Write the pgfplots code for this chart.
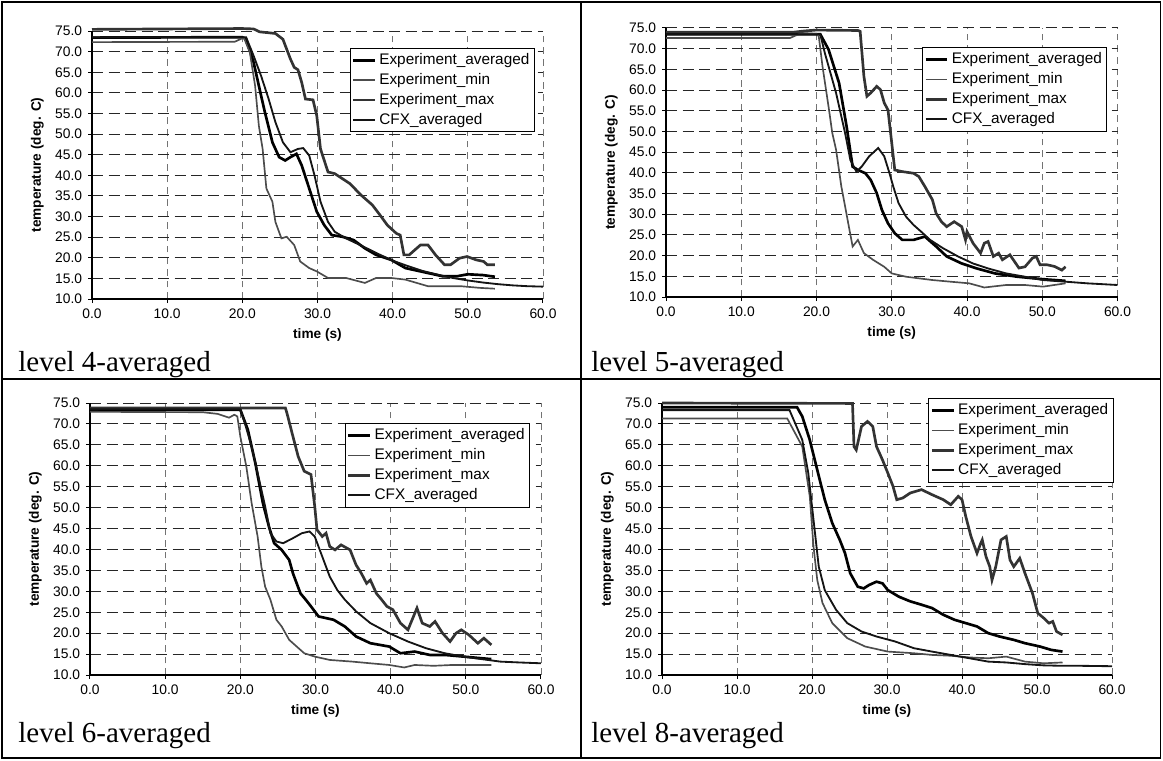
\documentclass[border=0pt]{standalone}
\usepackage{fontspec}
\setmainfont{Liberation Sans}
\newfontfamily\timesfont{Liberation Serif}
\usepackage{pgfplots}
\pgfplotsset{compat=1.18}
\pgfplotsset{
  panel/.style={
    scale only axis,
    xmin=0, xmax=60, ymin=10, ymax=75,
    xtick={0,10,...,60}, ytick={10,15,...,75},
    axis x line*=bottom, axis y line*=left,
    axis line style={-, line width=0.8pt, black},
    tick align=outside, major tick length=2.4pt,
    tick style={black, line width=0.6pt},
    xmajorgrids, ymajorgrids,
    x grid style={black!55, line width=0.5pt, dash pattern=on 4pt off 3pt},
    y grid style={black!85, line width=0.6pt, dash pattern=on 6.6pt off 3.3pt},
    /pgf/number format/.cd, fixed, fixed zerofill, precision=1, assume math mode=true,
    /pgfplots/.cd,
    tick label style={font=\fontsize{8.3}{10}\selectfont},
    label style={font=\bfseries\fontsize{8.2}{10}\selectfont},
    xlabel={time (s)}, ylabel={temperature (deg. C)},
    xlabel style={yshift=1pt},
    clip=false,
    legend cell align=left,
    legend image code/.code={\draw[##1] (0pt,0pt) -- (13pt,0pt);},
    legend style={font=\fontsize{9.2}{10.5}\selectfont, draw=black, line width=0.6pt,
      fill=white, inner xsep=1pt, inner ysep=1pt, row sep=-0.2pt, anchor=north west},
  },
  avg/.style={black, line width=1.6pt},
  emin/.style={black!70, line width=1.0pt},
  emax/.style={black!80, line width=1.6pt},
  cfx/.style={black!92, line width=1.1pt},
}
\begin{document}
\begin{tikzpicture}
\useasboundingbox (0,0) rectangle (697.8pt,456pt);
\draw[line width=0.9pt] (1.2pt,1.2pt) rectangle (696.3pt,454.8pt);
\draw[line width=0.9pt] (348.6pt,1.2pt) -- (348.6pt,454.8pt);
\draw[line width=0.9pt] (1.2pt,228.6pt) -- (696.3pt,228.6pt);

% ---------------- level 4 ----------------
\begin{axis}[panel, at={(55.2pt,276.6pt)}, anchor=south west, width=270.6pt, height=160.8pt,
  legend style={at={(0.571,0.937)}}]
\addplot[avg] coordinates {(0,73.4) (20,73.5) (20.5,73) (21.5,67.4) (22.2,61.7) (23,55.3) (24,48) (24.9,44.4) (25.7,43.6) (26.4,44.4) (27.2,45.2) (27.9,42.4) (28.9,36.8) (29.9,31.2) (30.9,27.9) (31.9,25.5) (33.3,25.1) (34.8,24.3) (36.3,22.3) (37.8,20.7) (39.8,19.5) (41.7,17.5) (43.7,16.7) (46.7,15.5) (48.5,15.5) (50,16) (52,15.8) (53.6,15.4)};
\addplot[emin] coordinates {(0,72.3) (19,72.4) (20.2,73.4) (21,69.8) (21.7,61.7) (22.2,52) (22.7,46.4) (23.2,36.8) (24,33.6) (24.4,28.7) (25.2,24.7) (25.9,25.1) (26.9,23.1) (27.7,19.1) (28.9,17.5) (29.9,16.7) (31.4,15.1) (33.8,15.1) (36.3,13.9) (37.8,15.1) (39.8,15.1) (41.7,14.7) (43.2,13.9) (44.7,13.1) (46.7,13.1) (49.1,13.1) (51.6,12.7) (53.6,12.5)};
\addplot[emax] coordinates {(0,75.4) (10,75.5) (20,75.6) (21.5,75.5) (22.3,74.8) (24.4,74.4) (25.4,73) (26.4,68.2) (26.9,66.2) (27.4,65.6) (27.9,62.5) (28.4,58.5) (29.4,58.3) (29.9,54.5) (30.4,46.4) (31.4,40.8) (32.3,40.4) (34.3,38) (35.8,35.2) (37.3,32.8) (38.3,30.4) (39.3,27.9) (40.5,25.9) (41,25.5) (41.5,20.7) (42.2,20.7) (43.7,23.1) (44.7,23.1) (45.7,20.7) (46.9,18.3) (47.7,18.3) (48.9,19.9) (49.9,20.3) (51.1,19.5) (52.1,19.1) (52.6,18.3) (53.6,18.3)};
\addplot[cfx] coordinates {(0,73.5) (20.5,73.5) (21.5,69) (22.5,64.1) (23.5,58.5) (24.4,52.9) (25.4,48) (26.4,45.6) (27.4,46.4) (28.1,46.6) (28.9,44.8) (29.6,40) (30.4,33.6) (31.4,28.7) (32.3,26.3) (33.8,24.7) (36,22.8) (38,21) (40,19.3) (42,18) (44,16.8) (46,15.9) (48,15.1) (50,14.5) (52,14) (54,13.6) (56,13.3) (58,13.1) (60,13)};
\legend{Experiment\_averaged, Experiment\_min, Experiment\_max, CFX\_averaged}
\end{axis}

% ---------------- level 5 ----------------
\begin{axis}[panel, at={(399.6pt,277.8pt)}, anchor=south west, width=270.9pt, height=161.4pt,
  legend style={at={(0.567,0.929)}}]
\addplot[avg] coordinates {(0,73.5) (20.5,73.5) (21.6,69.8) (23,61.7) (24,51.2) (24.8,41.5) (25.5,40.7) (26.5,39.9) (27.2,38.3) (28,35.1) (28.7,31) (29.5,27.8) (30.4,25.4) (31.4,23.8) (32.9,23.8) (34.4,24.6) (35.9,22.2) (37.3,19.8) (39.3,18.1) (41.3,16.9) (43.7,15.7) (46.7,14.9) (50.1,14.3) (53.1,13.9)};
\addplot[emin] coordinates {(0,72.6) (16.5,72.6) (18,73.8) (20,73.6) (20.3,73) (20.8,65.7) (21.6,56) (22.1,49.6) (22.6,45.6) (23.3,36.7) (23.8,31.9) (24.3,27) (24.8,22.2) (25.5,23.8) (26.3,20.6) (27.5,19) (29,17.3) (30,15.7) (31.9,14.9) (35.4,14.1) (37.8,13.7) (40.3,13.3) (42.3,12.3) (45.2,12.9) (47.7,12.9) (50.1,12.5) (53.1,13.3)};
\addplot[emax] coordinates {(0,74) (17,74) (18.5,74.3) (20,74.5) (25.5,74.4) (25.8,74.2) (26.3,63.3) (26.7,58.5) (27.2,59.3) (28,60.9) (28.5,60.1) (29,56.9) (29.5,55.2) (30,47.2) (30.4,40.7) (31.4,40.3) (32.9,39.9) (33.6,39.1) (34.4,36.7) (35.4,33.5) (35.9,30.2) (36.6,28.2) (37.3,27) (38.3,28.2) (39.3,27) (39.8,23.8) (40,25.8) (40.8,23) (41.8,20.6) (42.3,23) (42.8,23.4) (43.5,19.8) (44.2,20.6) (44.7,19) (45.7,20.2) (46.9,17) (47.7,17.3) (48.7,19.4) (49.2,19.8) (49.7,17.8) (50.6,17.8) (51.6,17.4) (52.6,16.5) (53.1,17.3)};
\addplot[cfx] coordinates {(0,73.5) (20.5,73.5) (21.1,69) (22.6,59.3) (23.8,49.6) (24.5,43.1) (25.3,40.3) (26,41.5) (27,44) (28.2,46) (29,44) (29.7,39.9) (30.2,36.7) (30.9,32.7) (31.9,29.4) (32.9,27.4) (33.9,25.8) (35.1,23.8) (36.8,21.8) (38.8,19.8) (40.8,18.1) (42.8,16.9) (45.2,15.7) (47.7,14.9) (50.1,14.1) (53.1,13.7) (56,13.3) (60,12.9)};
\legend{Experiment\_averaged, Experiment\_min, Experiment\_max, CFX\_averaged}
\end{axis}

% ---------------- level 6 ----------------
\begin{axis}[panel, at={(54pt,51pt)}, anchor=south west, width=270.6pt, height=163.2pt,
  legend style={at={(0.565,0.926)}}]
\addplot[avg] coordinates {(0,73.3) (20,73.4) (21,68.6) (22,60.6) (23,51.1) (23.8,45.5) (24.5,41.5) (25.5,39.9) (26.5,37.5) (27,34.3) (28,29.5) (28.7,28) (29.4,26.4) (30.4,24) (31.4,23.6) (32.4,23.2) (33.9,21.6) (35.4,19.2) (37.3,17.6) (39.8,16.8) (41.3,15.2) (43.2,15.6) (45.2,14.8) (47.2,14.8) (49.7,14.4) (52.1,14) (53.4,13.8)};
\addplot[emin] coordinates {(0,72.9) (15,72.8) (17,72.4) (18.5,71.5) (19.2,72.2) (19.6,71.8) (20,67) (20.8,59.8) (21.5,51.1) (22.3,43.1) (22.8,35.9) (23.3,31.1) (24,28) (24.8,23.2) (25.5,21.6) (26.5,18.4) (27.5,16.8) (28.5,15.2) (29.9,14.4) (31.9,13.6) (34.9,13.2) (37.3,12.8) (39.8,12.4) (41.8,11.8) (43.2,12.4) (45.7,12.2) (48.2,12.4) (50.6,12.4) (53.4,12.4)};
\addplot[emax] coordinates {(0,73.8) (19,73.8) (26,73.8) (26.2,72.6) (27,67) (27.7,62.2) (28.5,58.7) (29.4,57.9) (29.9,50.3) (30.2,44.7) (30.9,43.1) (31.4,43.9) (31.9,40.7) (32.6,39.9) (33.4,41.1) (34.6,39.9) (35.4,36.3) (36.1,34.3) (36.8,31.9) (37.3,32.7) (38.1,29.5) (38.8,28) (39.5,26.4) (40.3,25.6) (41.3,22.4) (42.3,20.8) (43.5,26) (44.2,22.4) (45.2,21.6) (45.9,22.8) (46.9,20) (47.9,18) (48.7,20) (49.4,20.8) (50.4,19.6) (51.6,17.6) (52.4,18.8) (53.4,17.2)};
\addplot[cfx] coordinates {(0,73.5) (20,73.5) (20.6,70.2) (21.5,64.6) (22.5,56.7) (23.3,50.3) (24,43.9) (24.8,41.9) (25.7,41.5) (27,42.7) (28.2,43.9) (29.2,44.3) (29.9,43.1) (30.9,38.3) (31.9,33.5) (32.9,30.3) (33.9,28) (35.4,25.2) (37.3,22.4) (39.8,20) (42.3,18) (44.7,16.4) (47.2,15.2) (49.7,14.4) (52.1,13.8) (54.6,13.2) (57.1,13) (60,12.8)};
\legend{Experiment\_averaged, Experiment\_min, Experiment\_max, CFX\_averaged}
\end{axis}

% ---------------- level 8 ----------------
\begin{axis}[panel, at={(397.2pt,51pt)}, anchor=south west, width=270pt, height=163.2pt,
  legend style={at={(0.592,1.018)}}]
\addplot[avg] coordinates {(0,74) (18,74) (18.7,71.8) (19.7,66.2) (20.7,59) (21.7,51.9) (22.7,46.3) (23.7,42.3) (24.4,39.1) (25.1,34.3) (26.1,31.1) (26.9,30.7) (27.6,31.5) (28.6,32.3) (29.4,31.9) (30.1,30.3) (31.6,28.7) (33.1,27.6) (34.6,26.8) (36,26) (37.5,24.4) (39,23.2) (40.5,22.4) (42,21.6) (43.5,20) (45,19.2) (46.9,18.4) (48.4,17.6) (50.4,16.8) (51.9,16) (53.4,15.6)};
\addplot[emin] coordinates {(0,71.3) (16.7,71.3) (18.7,64.6) (19.7,52.7) (20.2,40.7) (20.7,32.7) (21.4,27.2) (22.7,22.4) (24.7,18.8) (27.1,16.8) (30.1,15.6) (33.6,15.2) (36,14.8) (38.5,14.6) (41,14.2) (43.5,14) (45.9,14.4) (48.4,13.2) (50.9,12.8) (53.4,13)};
\addplot[emax] coordinates {(0,75) (25.4,74.9) (25.6,64.6) (25.9,63.8) (26.6,69.4) (27.4,70.6) (28.1,69.4) (28.6,64.6) (29.4,61.4) (30.1,58.3) (30.8,55.1) (31.3,51.9) (32.1,52.3) (33.1,53.5) (34.6,54.3) (36,53.1) (37.5,51.9) (38.5,50.7) (39.5,52.7) (40,51.9) (40.5,47.9) (41.2,43.1) (42,39.1) (42.5,41.5) (42.7,42.3) (43.2,38.3) (43.7,35.9) (44,32.7) (44.5,35.9) (45.2,42.3) (45.9,43.1) (46.4,37.5) (46.9,35.9) (47.7,37.9) (48.4,34.3) (49.4,29.5) (50.1,24.8) (50.9,23.6) (51.6,22.4) (52.1,22.8) (52.6,20.4) (53.4,19.6)};
\addplot[cfx] coordinates {(0,73.3) (17,73.3) (18.7,66.2) (19.5,58.3) (20.2,47.1) (20.9,35.9) (21.7,30.3) (23.2,25.6) (24.7,22.4) (26.6,20.4) (28.6,19.2) (31.1,18) (33.6,16.4) (36,15.6) (38.5,14.8) (41,14) (43.5,13.2) (45.9,13) (48.4,12.6) (50.9,12.3) (53.4,12.2) (55.8,12.2) (60,12.1)};
\legend{Experiment\_averaged, Experiment\_min, Experiment\_max, CFX\_averaged}
\end{axis}

\node[anchor=base west, font=\timesfont\fontsize{17.4}{20}\selectfont, inner sep=0pt] at (10.8pt,233.4pt) {level 4-averaged};
\node[anchor=base west, font=\timesfont\fontsize{17.4}{20}\selectfont, inner sep=0pt] at (354.6pt,233.4pt) {level 5-averaged};
\node[anchor=base west, font=\timesfont\fontsize{17.4}{20}\selectfont, inner sep=0pt] at (10.8pt,10.8pt) {level 6-averaged};
\node[anchor=base west, font=\timesfont\fontsize{17.4}{20}\selectfont, inner sep=0pt] at (354.6pt,10.8pt) {level 8-averaged};
\end{tikzpicture}
\end{document}
